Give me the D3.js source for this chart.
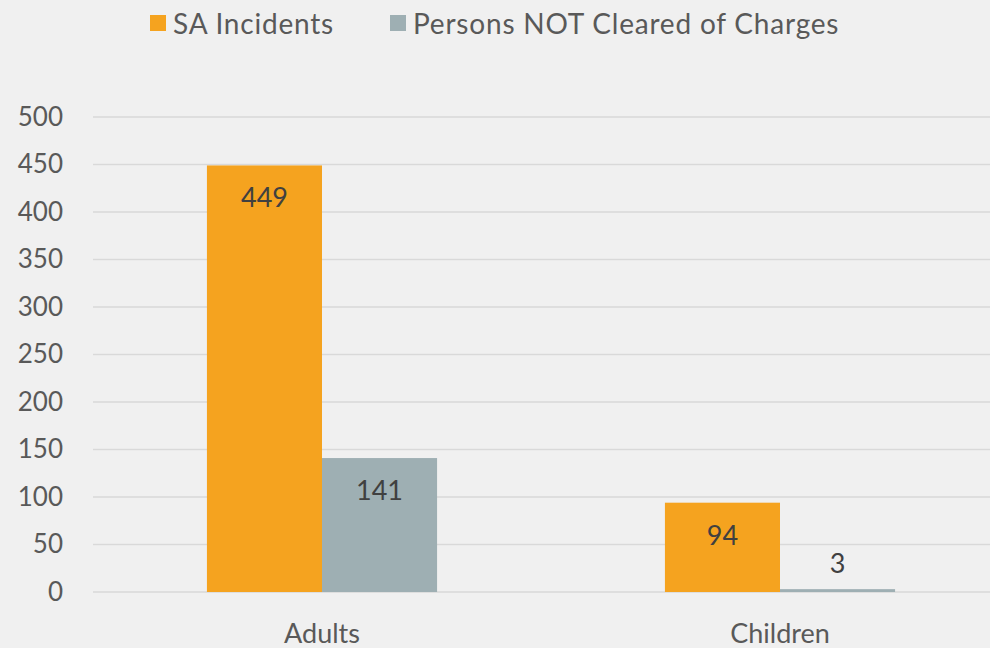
<!DOCTYPE html>
<html>
<head>
<meta charset="utf-8">
<script src="https://cdn.jsdelivr.net/npm/d3@7"></script>
<style>
  body { margin: 0; background: #f0f0f0; }
  svg { display: block; font-family: "Lato", "Open Sans", sans-serif; }
</style>
</head>
<body>
<svg id="Chart"></svg>
<script>
let categories = ["Adults", "Children"]
let seriesNames = ["SA Incidents", "Persons NOT Cleared of Charges"]
let saIncidents = [449, 94]
let notCleared = [141, 3]
let yTicks = [0, 50, 100, 150, 200, 250, 300, 350, 400, 450, 500]
let colors = ["#f5a31f", "#9eafb3"]

function getConfig(){
    let width = 990
    let height = 648
    let margin = { top: 117, bottom: 56, left: 93, right: -19 }
    let bodyWidth = width - margin.left - margin.right
    let bodyHeight = height - margin.top - margin.bottom
    let container = d3.select("#Chart").attr("width", width).attr("height", height)
    return { width, height, margin, bodyWidth, bodyHeight, container }
}

function getScales(config){
    let { bodyWidth, bodyHeight } = config
    let xScale = d3.scaleBand()
        .domain(categories)
        .range([0, bodyWidth])
    let xInner = d3.scaleBand()
        .domain(seriesNames)
        .range([0, xScale.bandwidth()])
        .paddingInner(0)
        .paddingOuter(0.99)
    let yScale = d3.scaleLinear()
        .domain([0, 500])
        .range([bodyHeight, 0])
    return { xScale, xInner, yScale }
}

function drawGrid(config, scales){
    let { container, margin, bodyWidth } = config
    let { yScale } = scales
    let g = container.append("g")
        .attr("transform", `translate(${margin.left},${margin.top})`)
    g.selectAll("line").data(yTicks).enter().append("line")
        .attr("x1", 0).attr("x2", bodyWidth)
        .attr("y1", d => yScale(d)).attr("y2", d => yScale(d))
        .attr("stroke", "#d9d9d9").attr("stroke-width", 1.5)
}

function drawBars(config, scales){
    let { container, margin } = config
    let { xScale, xInner, yScale } = scales
    let rows = categories.map((c, i) => ({
        category: c,
        values: [
            { name: seriesNames[0], value: saIncidents[i], color: colors[0] },
            { name: seriesNames[1], value: notCleared[i], color: colors[1] }
        ]
    }))
    let body = container.append("g")
        .attr("transform", `translate(${margin.left},${margin.top})`)
    let groups = body.selectAll(".grp").data(rows).enter().append("g")
        .attr("transform", d => `translate(${xScale(d.category)},0)`)
    groups.selectAll("rect").data(d => d.values).enter().append("rect")
        .attr("x", d => xInner(d.name))
        .attr("width", xInner.bandwidth())
        .attr("y", d => yScale(d.value))
        .attr("height", d => yScale(0) - yScale(d.value))
        .attr("fill", d => d.color)
    groups.selectAll("text").data(d => d.values).enter().append("text")
        .attr("x", d => xInner(d.name) + xInner.bandwidth() / 2)
        .attr("y", d => {
            let h = yScale(0) - yScale(d.value)
            return h > 40 ? yScale(d.value) + 42 : yScale(d.value) - 16
        })
        .attr("text-anchor", "middle")
        .attr("font-size", 27)
        .attr("fill", "#404040")
        .text(d => d.value)
}

function drawAxes(config, scales){
    let { container, margin, bodyHeight } = config
    let { xScale, yScale } = scales
    let axisY = d3.axisLeft(yScale).tickValues(yTicks).tickSize(0).tickPadding(30)
    let gy = container.append("g")
        .attr("transform", `translate(${margin.left},${margin.top})`)
        .call(axisY)
    gy.select(".domain").remove()
    gy.selectAll("text").attr("font-size", 26).attr("fill", "#595959")
        .attr("font-family", "Lato, sans-serif")

    let axisX = d3.axisBottom(xScale).tickSize(0).tickPadding(32)
    let gx = container.append("g")
        .attr("transform", `translate(${margin.left},${margin.top + bodyHeight})`)
        .call(axisX)
    gx.select(".domain").remove()
    gx.selectAll("text").attr("font-size", 27).attr("fill", "#595959")
        .attr("font-family", "Lato, sans-serif")
}

function drawLegend(config){
    let { container } = config
    let items = [
        { name: seriesNames[0], color: colors[0], x: 150 },
        { name: seriesNames[1], color: colors[1], x: 390 }
    ]
    let g = container.append("g")
    let item = g.selectAll("g").data(items).enter().append("g")
        .attr("transform", d => `translate(${d.x},0)`)
    item.append("rect")
        .attr("x", 0).attr("y", 15).attr("width", 16).attr("height", 16)
        .attr("fill", d => d.color)
    item.append("text")
        .attr("x", 23).attr("y", 34)
        .attr("font-size", 28).attr("fill", "#595959")
        .attr("letter-spacing", 0.8)
        .text(d => d.name)
}

let config = getConfig()
let scales = getScales(config)
drawGrid(config, scales)
drawBars(config, scales)
drawAxes(config, scales)
drawLegend(config)
</script>
</body>
</html>
